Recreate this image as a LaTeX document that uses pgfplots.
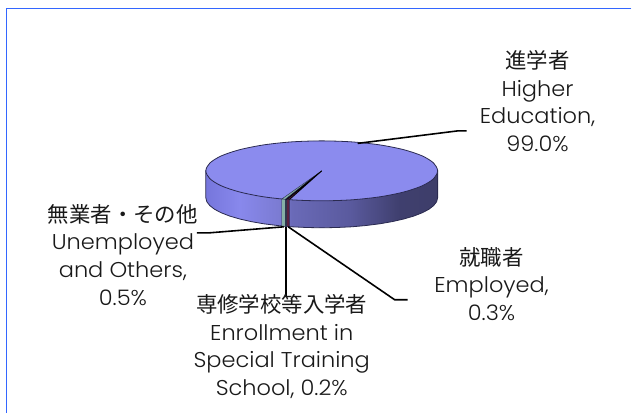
\documentclass[border=0pt]{standalone}
\usepackage{pgfplots}
\pgfplotsset{compat=1.18}
\usepackage{fontspec}
\setmainfont{Poppins Light}[FakeStretch=1.05]
\newfontfamily\cjk{Noto Sans CJK JP}
\definecolor{topblue}{HTML}{8B8BEE}
\definecolor{edge}{HTML}{2A2A50}
\definecolor{borderblue}{HTML}{3366FF}
\definecolor{sliceA}{HTML}{86AFA6}
\definecolor{sliceB}{HTML}{2F4F48}
\definecolor{sliceC}{HTML}{5A2040}
\definecolor{rimA}{HTML}{7676DC}
\definecolor{rimB}{HTML}{8888EC}
\definecolor{rimC}{HTML}{7A7AD0}
\definecolor{rimD}{HTML}{6A6AB8}
\definecolor{rimE}{HTML}{5A5A9E}
\definecolor{rimF}{HTML}{3F3F6E}
\definecolor{rimG}{HTML}{3E3E6A}
% pie rim, dark on the right
\pgfdeclarehorizontalshading{rim}{100bp}{
  color(0bp)=(rimA); color(25bp)=(rimA);
  color(32.3bp)=(rimB); color(41.6bp)=(rimC); color(43.5bp)=(rimD);
  color(56bp)=(rimE); color(66.8bp)=(rimF); color(75bp)=(rimG); color(100bp)=(rimG)}
\tikzset{lab/.style={font=\fontsize{21.5}{27.7}\selectfont, text=black!90, align=center, inner sep=0pt}}

\begin{document}
\begin{tikzpicture}
\begin{axis}[
    scale only axis,
    width=632bp,
    height=413bp,
    xmin=0, xmax=632,
    ymin=0, ymax=413,
    y dir=reverse,
    hide axis,
    clip=false,
]
% keeps the page at full size
\addplot[draw=none, fill=white] coordinates {(0,0) (632,0) (632,413) (0,413)} -- cycle;
% frame, top and left only
\addplot[borderblue, line width=1.1pt] coordinates {(632,8.5) (6.5,8.5) (6.5,413)};

% rim
\addplot[draw=edge, line width=0.8pt, shade, shading=rim] coordinates {
    (206,171) (206,198) (207,201.9) (210,205.8) (214.8,209.5) (221.5,213)
    (230,216.3) (240,219.2) (251.4,221.8) (264,224) (277.6,225.7) (292,227)
    (306.9,227.7) (322,228) (337.1,227.7) (352,227) (366.4,225.7) (380,224)
    (392.6,221.8) (404,219.2) (414,216.3) (422.5,213) (429.2,209.5) (434,205.8)
    (437,201.9) (438,198) (438,171)
} -- cycle;
% top, 99.0%
\addplot[draw=edge, line width=0.8pt, fill=topblue, smooth cycle] coordinates {
    (438,171) (434,178.8) (422.5,186) (404,192.2) (380,197) (352,200)
    (322,201) (292,200) (264,197) (240,192.2) (221.5,186) (210,178.8)
    (206,171) (210,163.2) (221.5,156) (240,149.8) (264,145) (292,142)
    (322,141) (352,142) (380,145) (404,149.8) (422.5,156) (434,163.2)
};

% 0.5%
\addplot[draw=edge, line width=0.4pt, fill=sliceA] coordinates {(322,171) (282,199.2) (285.6,199.5)} -- cycle;
\addplot[draw=edge, line width=0.4pt, fill=sliceA] coordinates {(282,199.2) (285.6,199.5) (285.6,226.5) (282,226.2)} -- cycle;
% 0.2%
\addplot[draw=edge, line width=0.4pt, fill=sliceB] coordinates {(322,171) (285.6,199.5) (287,199.6)} -- cycle;
\addplot[draw=edge, line width=0.4pt, fill=sliceB] coordinates {(285.6,199.5) (287,199.6) (287,226.6) (285.6,226.5)} -- cycle;
% 0.3%
\addplot[draw=black, line width=0.8pt, fill=sliceC] coordinates {(322,171) (287,199.6) (289.6,199.8)} -- cycle;
\addplot[draw=edge, line width=0.4pt, fill=sliceC] coordinates {(287,199.6) (289.6,199.8) (289.6,226.8) (287,226.6)} -- cycle;

% leader lines
\addplot[black, line width=1.6pt] coordinates {(358,143.5) (458,131) (467,131)};
\addplot[black, line width=1.6pt] coordinates {(288.5,227) (395,300) (408,300)};
\addplot[black, line width=1.6pt] coordinates {(286,227) (286,296)};
\addplot[black, line width=1.6pt] coordinates {(284,227) (210,233) (197,233)};

\node[lab] at (axis cs:538,101) {{\cjk 進学者}\\Higher\\Education,\\99.0\%};
\node[lab] at (axis cs:492,284) {{\cjk 就職者}\\Employed,\\0.3\%};
\node[lab] at (axis cs:123,255) {{\cjk 無業者・その他}\\Unemployed\\and Others,\\0.5\%};
\node[lab] at (axis cs:282,347) {{\cjk 専修学校等入学者}\\Enrollment in\\Special Training\\School, 0.2\%};
\end{axis}
\end{tikzpicture}
\end{document}
